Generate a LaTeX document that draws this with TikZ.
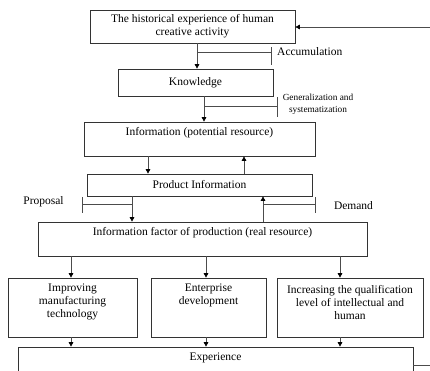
\documentclass[tikz,border=0pt]{standalone}
\usepackage{fontspec}
\setmainfont{Liberation Serif}
\usetikzlibrary{arrows.meta}

\begin{document}
\begin{tikzpicture}[x=1pt,y=-1pt,
            box/.style={draw=black!80,line width=0.7pt,inner sep=0pt,align=center,font=\fontsize{11.5}{13}\selectfont},
            txt/.style={inner sep=0pt,align=center,font=\fontsize{11.5}{13}\selectfont},
            small/.style={inner sep=0pt,align=center,font=\fontsize{9.3}{12}\selectfont},
            link/.style={draw=black!70,line width=0.7pt},
            arr/.style={link,-{Triangle[length=4.5pt,width=4.5pt,color=black]}},
            ]
            \useasboundingbox (0,0) rectangle (430,370);
            \clip (0,0) rectangle (430,370);

            % boxes
            \node[box, minimum width=205, minimum height=33] (hist) at (192.5,26.5) {The historical experience of human\\creative activity};
            \node[box, minimum width=155, minimum height=27] (know) at (195.5,82.5) {Knowledge};
            \node[box, minimum width=231, minimum height=34] (info) at (199.5,139) {};
            \node[txt] (infot) at (199.5,133) {Information (potential resource)};
            \node[box, minimum width=225, minimum height=22] (prod) at (199.5,185) {Product Information};
            \node[box, minimum width=329, minimum height=34] (fact) at (202.5,239) {};
            \node[txt] (factt) at (202.5,233) {Information factor of production (real resource)};
            \node[box, minimum width=129, minimum height=59] (b1) at (72.5,307.5) {};
            \node[txt] (b1t) at (72.5,302) {Improving\\manufacturing\\technology};
            \node[box, minimum width=115, minimum height=59] (b2) at (208.5,307.5) {};
            \node[txt] (b2t) at (208.5,295.5) {Enterprise\\development};
            \node[box, minimum width=146, minimum height=59] (b3) at (350,307.5) {};
            \node[txt] (b3t) at (350,302) {Increasing the qualification\\level of intellectual and\\human};
            \node[box, minimum width=395, minimum height=30] (exp) at (215.5,362) {};
            \node[txt] (expt) at (215.5,358) {Experience};

            % side labels
            \node[txt, anchor=west] (acclab) at (277,52) {Accumulation};
            \node[small] (genlab) at (318,104) {Generalization and\\systematization};
            \node[txt] (proplab) at (43.5,202) {Proposal};
            \node[txt] (demlab) at (353.5,206) {Demand};

            % arrow lines
            \coordinate (c1) at (197,0);
            \coordinate (c2) at (204,0);
            \coordinate (c3) at (148,0);
            \coordinate (c4) at (244,0);
            \coordinate (c5) at (132,0);
            \coordinate (c6) at (263,0);
            \coordinate (l1) at (71,0);
            \coordinate (l2) at (206,0);
            \coordinate (l3) at (340,0);

            \draw[arr] (hist.south -| c1) -- (know.north -| c1);
            \draw[arr] (know.south -| c2) -- (info.north -| c2);
            \draw[arr] (info.south -| c3) -- (prod.north -| c3);
            \draw[arr] (prod.north -| c4) -- (info.south -| c4);
            \draw[arr] (prod.south -| c5) -- (fact.north -| c5);
            \draw[arr] (fact.north -| c6) -- (prod.south -| c6);

            \draw[arr] (fact.south -| l1) -- (b1.north -| l1);
            \draw[arr] (fact.south -| l2) -- (b2.north -| l2);
            \draw[arr] (fact.south -| l3) -- (b3.north -| l3);
            \draw[arr] (b1.south -| l1) -- (exp.north -| l1);
            \draw[arr] (b2.south -| l2) -- (exp.north -| l2);
            \draw[arr] (b3.south -| l3) -- (exp.north -| l3);

            % ticks
            \coordinate (acc) at (271,52);
            \coordinate (gen) at (277,106);
            \coordinate (prop) at (82,204);
            \coordinate (dem) at (315,204);
            \draw[link] (acc -| c1) -- (acc) ++(0,-5) -- ++(0,18);
            \draw[link] (gen -| c2) -- (gen) ++(0,-9) -- ++(0,20);
            \draw[link] (prop -| c5) -- (prop) ++(0,-7) -- ++(0,16);
            \draw[link] (dem -| c6) -- (dem) ++(0,-7) -- ++(0,16);

            % feedback
            \coordinate (fbin) at (430,27);
            \coordinate (fbout) at (430,365);
            \draw[arr] (fbin) -- (hist.east |- fbin);
            \draw[link] (exp.east |- fbout) -- (fbout);
        \end{tikzpicture}
\end{document}
